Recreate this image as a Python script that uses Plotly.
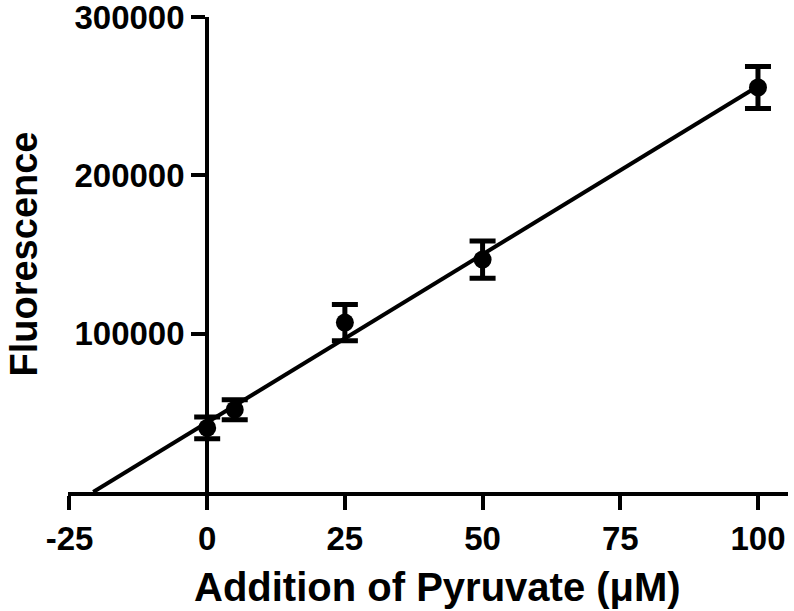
import numpy as np
import plotly.graph_objects as go

# Data
pyruvate_uM = [0, 5, 25, 50, 100]
fluorescence = [40500, 52000, 107000, 146800, 255500]
fluor_err = [6800, 6300, 11400, 11800, 13300]

x_ticks = [-25, 0, 25, 50, 75, 100]
y_ticks = [100000, 200000, 300000]
y_tick_labels = ["100000", "200000", "300000"]

# Linear regression line (from x-intercept to last point)
slope, intercept = np.polyfit(pyruvate_uM, fluorescence, 1)
x0 = -intercept / slope
fit_x = [x0, max(pyruvate_uM)]
fit_y = [slope * v + intercept for v in fit_x]

W, H = 794, 611
ml, mr, mt, mb = 68, 6, 17, 119
xr = [-25.27, 105.45]

FONT = "Liberation Sans, Arial, sans-serif"

fig = go.Figure()
fig.add_trace(go.Scatter(x=fit_x, y=fit_y, mode="lines",
                         line=dict(color="black", width=4), showlegend=False,
                         hoverinfo="skip"))
fig.add_trace(go.Scatter(
    x=pyruvate_uM, y=fluorescence, mode="markers",
    marker=dict(color="black", size=18, symbol="circle"),
    error_y=dict(type="data", array=fluor_err, visible=True,
                 color="black", thickness=5, width=13),
    showlegend=False))

ypos = (0 - xr[0]) / (xr[1] - xr[0])

fig.update_layout(
    width=W, height=H,
    margin=dict(l=ml, r=mr, t=mt, b=mb, autoexpand=False),
    paper_bgcolor="white", plot_bgcolor="white",
    font=dict(family=FONT, color="black"),
    xaxis=dict(range=xr, tickvals=x_ticks, ticktext=[str(v) for v in x_ticks],
               showgrid=False, zeroline=False, showline=True,
               linecolor="black", linewidth=4, ticks="outside",
               ticklen=14, tickwidth=4, tickcolor="black",
               tickfont=dict(family=FONT, size=33, weight="bold", color="black"),
               anchor="y", automargin=False, ticklabeloverflow="allow"),
    yaxis=dict(range=[0, 300000], tickvals=y_ticks, ticktext=y_tick_labels,
               showgrid=False, zeroline=False, showline=True,
               linecolor="black", linewidth=4, ticks="outside",
               ticklen=14, tickwidth=4, tickcolor="black",
               tickfont=dict(family=FONT, size=33, weight="bold", color="black"),
               anchor="free", position=ypos, automargin=False,
               ticklabeloverflow="allow"),
    annotations=[
        dict(text="Addition of Pyruvate (μM)", xref="paper", yref="paper",
             x=(438 - ml) / (W - ml - mr), y=(492 - 587) / (492 - 17),
             xanchor="center", yanchor="middle", showarrow=False,
             font=dict(family=FONT, size=40, weight="bold", color="black")),
        dict(text="Fluorescence", xref="paper", yref="paper",
             x=(23 - ml) / (W - ml - mr), y=0.5, textangle=-90,
             xanchor="center", yanchor="middle", showarrow=False,
             font=dict(family=FONT, size=38, weight="bold", color="black")),
    ],
)

fig.write_html("out.html", config={"displayModeBar": False},
               post_script="document.body.style.margin='0';document.body.style.overflow='hidden';")
